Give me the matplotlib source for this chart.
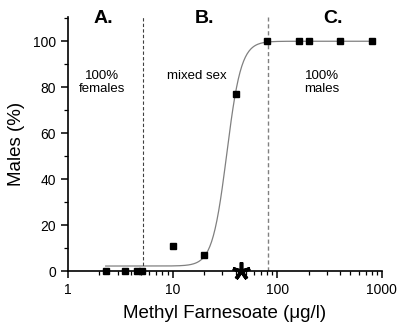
import matplotlib.pyplot as plt
import numpy as np
from matplotlib.ticker import FixedLocator, NullFormatter

plt.rcParams['font.family'] = ['Liberation Sans', 'DejaVu Sans']

# observed data
conc = [2.3, 3.5, 4.6, 5.1, 10, 20, 40, 80, 160, 200, 400, 800]
males = [0, 0, 0, 0, 11, 7, 77, 100, 100, 100, 100, 100]

# Hill fit parameters
fit_bottom = 2.2
fit_top = 100.0
fit_ec50 = 33.0
fit_slope = 6.3

star_x = 45.6
boundaries = [5.17, 82]
section_labels = ['A.', 'B.', 'C.']
section_x = [2.2, 20.4, 340]
region_text = ['100%\nfemales', 'mixed sex', '100%\nmales']
region_x = [2.1, 17, 266]
region_y = [82, 85, 82]

fig = plt.figure(figsize=(3.99, 3.29), dpi=100)
ax = fig.add_axes([0.170, 0.176, 0.787, 0.772])

xs = np.logspace(np.log10(conc[0]), np.log10(conc[-1]), 300)
ys = fit_bottom + (fit_top - fit_bottom) / (1 + 10 ** ((np.log10(fit_ec50) - np.log10(xs)) * fit_slope))
ax.plot(xs, ys, color='#808080', lw=0.9, zorder=2)
ax.plot(conc, males, 's', color='black', ms=4.5, clip_on=False, zorder=3)
ax.plot([star_x], [0], marker=(5, 2, 0), color='black', ms=13, mew=2.6, clip_on=False, zorder=4)

ax.axvline(boundaries[0], color='#404040', ls=(0, (3, 2)), lw=0.8)
ax.axvline(boundaries[1], color='#808080', ls=(0, (3, 2)), lw=1.0)

ax.set_xscale('log')
ax.set_xlim(1, 1000)
ax.set_ylim(0, 110.5)

for s in ['top', 'right']:
    ax.spines[s].set_visible(False)
ax.spines['left'].set_linewidth(1.2)
ax.spines['bottom'].set_linewidth(1.2)

ax.set_yticks([0, 20, 40, 60, 80, 100])
ax.yaxis.set_minor_locator(FixedLocator([10, 30, 50, 70, 90, 110]))
ax.set_xticks([1, 10, 100, 1000])
ax.set_xticklabels(['1', '10', '100', '1000'])
ax.xaxis.set_minor_formatter(NullFormatter())
ax.tick_params(which='major', direction='out', length=5, width=1.1, labelsize=10)
ax.tick_params(which='minor', direction='out', length=3, width=0.9)

for lab, x in zip(section_labels, section_x):
    ax.text(x, 110, lab, ha='center', va='center', fontsize=14, fontweight='bold')
for t, x, y in zip(region_text, region_x, region_y):
    ax.text(x, y, t, ha='center', va='center', fontsize=9.5, linespacing=1.1)

ax.set_xlabel('Methyl Farnesoate (\u03bcg/l)', fontsize=13.5, labelpad=6)
ax.set_ylabel('Males (%)', fontsize=13.5, labelpad=6)

fig.savefig('out.png', dpi=100)
